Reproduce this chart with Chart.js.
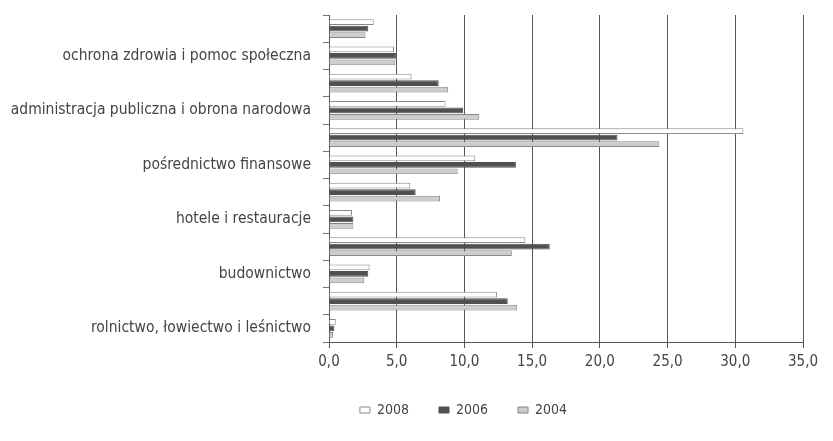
<!DOCTYPE html>
<html>
<head>
<meta charset="utf-8">
<script src="https://cdn.jsdelivr.net/npm/chart.js@4/dist/chart.umd.min.js"></script>
<style>
  html, body { margin: 0; padding: 0; background: #fff; }
  #wrap { width: 833px; height: 441px; }
</style>
</head>
<body>
<div id="wrap"><canvas id="chart"></canvas></div>
<script>
// categories from top to bottom; only every other one carries a visible label
const categories = [
    'pozostała działalność usługowa',
    'ochrona zdrowia i pomoc społeczna',
    'edukacja',
    'administracja publiczna i obrona narodowa',
    'obsługa nieruchomości i firm',
    'pośrednictwo finansowe',
    'transport, gospodarka magazynowa i łączność',
    'hotele i restauracje',
    'handel i naprawy',
    'budownictwo',
    'przetwórstwo przemysłowe',
    'rolnictwo, łowiectwo i leśnictwo'
];
const years = ['2008', '2006', '2004'];
const values2008 = [3.3, 4.8, 6.1, 8.6, 30.6, 10.8, 6.0, 1.7, 14.5, 3.0, 12.4, 0.5];
const values2006 = [2.9, 5.0, 8.1, 9.9, 21.3, 13.8, 6.4, 1.8, 16.3, 2.9, 13.2, 0.4];
const values2004 = [2.7, 4.9, 8.8, 11.1, 24.4, 9.5, 8.2, 1.8, 13.5, 2.6, 13.9, 0.3];
const xTicks = [0, 5, 10, 15, 20, 25, 30, 35];

const font = "'DejaVu Sans Condensed', Arial, sans-serif";
const textColor = '#444';

// push the legend a bit to the right, like in the original
const shiftLegend = {
    id: 'shiftLegend',
    afterLayout(chart) {
        chart.legend.left += 62;
        chart.legend.right += 62;
    }
};

const ctx = document.getElementById('chart').getContext('2d');
const chart = new Chart(ctx, {
    type: 'bar',
    data: {
        labels: categories,
        datasets: [{
            label: years[0],
            data: values2008,
            backgroundColor: '#ffffff',
            borderColor: '#8a8a8a',
            borderWidth: 1
        }, {
            label: years[1],
            data: values2006,
            backgroundColor: '#505050',
            borderColor: '#505050',
            borderWidth: 1
        }, {
            label: years[2],
            data: values2004,
            backgroundColor: '#cdcdcd',
            borderColor: '#888888',
            borderWidth: 1
        }]
    },
    plugins: [shiftLegend],
    options: {
        indexAxis: 'y',
        responsive: true,
        maintainAspectRatio: false,
        animation: false,
        layout: { padding: { left: 0, right: 30, top: 15, bottom: 14 } },
        datasets: {
            bar: { categoryPercentage: 0.72, barPercentage: 0.88 }
        },
        plugins: {
            tooltip: { enabled: false },
            legend: {
                position: 'bottom',
                labels: {
                    boxWidth: 10,
                    boxHeight: 6,
                    padding: 30,
                    color: textColor,
                    font: { family: font, size: 14 }
                }
            }
        },
        scales: {
            x: {
                min: 0,
                max: 35,
                afterBuildTicks: axis => { axis.ticks = xTicks.map(v => ({ value: v })); },
                afterFit: axis => { axis.height = 31; },
                border: { color: '#555', width: 1 },
                grid: { color: '#555', lineWidth: 1, tickLength: 6 },
                ticks: {
                    color: textColor,
                    padding: 5,
                    font: { family: font, size: 15 },
                    callback: v => v.toFixed(1).replace('.', ',')
                }
            },
            y: {
                afterFit: axis => {
                    axis.width = 329;
                    axis.paddingTop = 0;
                    axis.paddingBottom = 0;
                },
                border: { color: '#555', width: 1 },
                grid: { drawOnChartArea: false, offset: true, color: '#777', tickLength: 6 },
                ticks: {
                    autoSkip: false,
                    color: textColor,
                    padding: 12,
                    font: { family: font, size: 15.5 },
                    callback: function (v, i) { return i % 2 === 1 ? categories[i] : ''; }
                }
            }
        }
    }
});
</script>
</body>
</html>
